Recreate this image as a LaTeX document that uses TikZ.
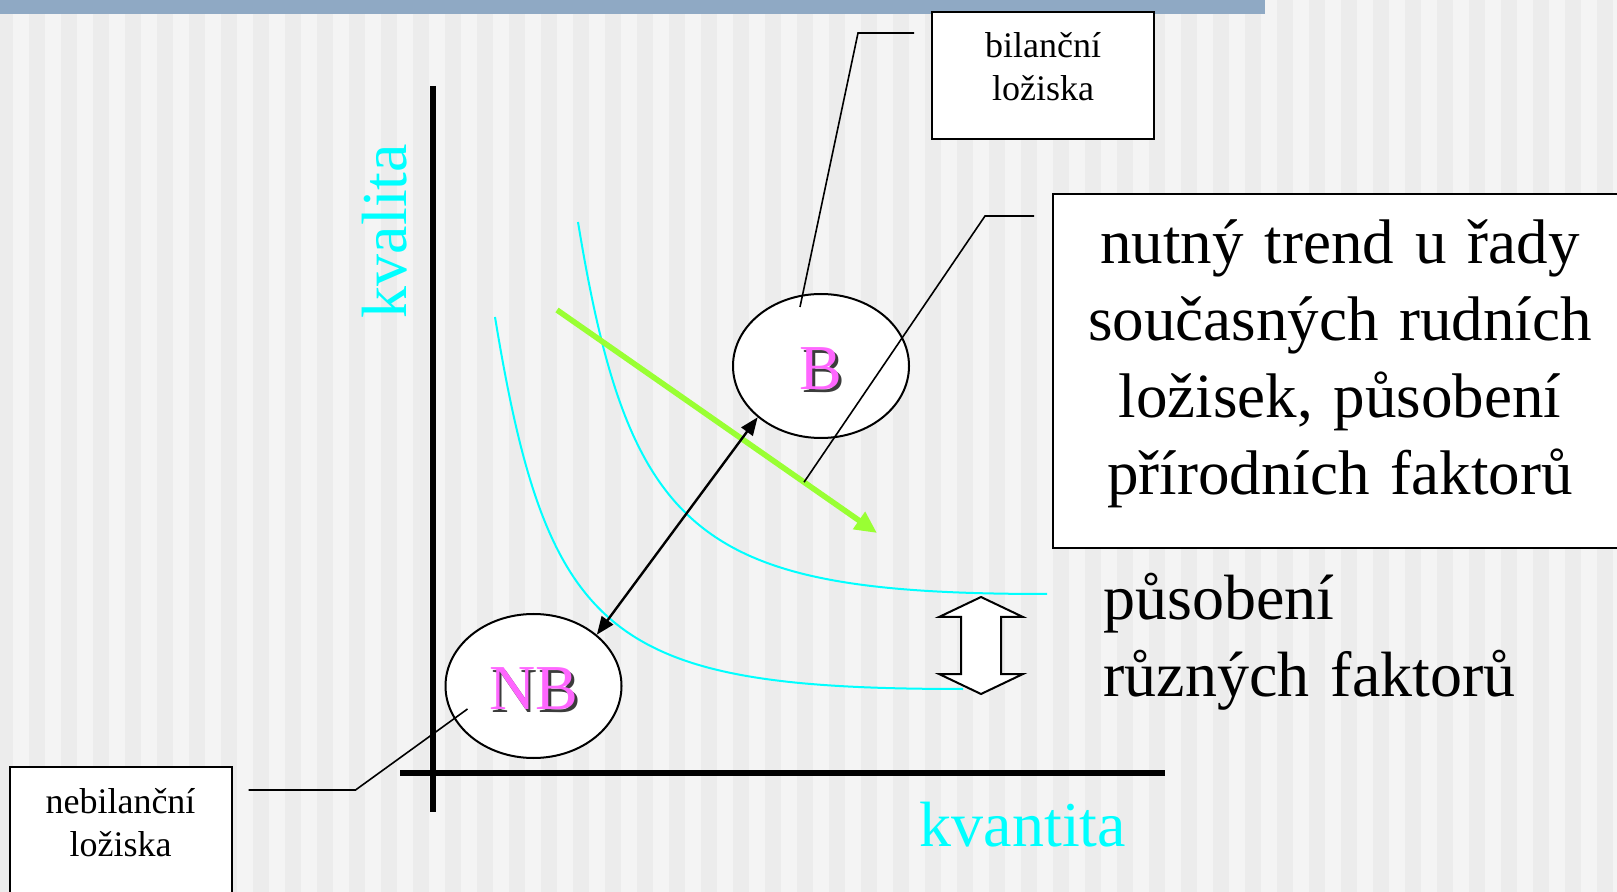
\documentclass[tikz,border=0pt]{standalone}
\usepackage{fontspec}
\setmainfont{Liberation Serif}
\usepackage{tikz}
\usetikzlibrary{arrows.meta, calc, shapes.geometric}

\definecolor{stripedark}{RGB}{236,236,236}
\definecolor{stripelight}{RGB}{244,244,244}
\definecolor{topbar}{RGB}{143,169,196}
\definecolor{axiscyan}{RGB}{0,255,255}
\definecolor{trendgreen}{RGB}{153,255,51}
\definecolor{depositpink}{RGB}{255,102,255}
\definecolor{shadowgray}{RGB}{60,60,60}

\newcommand{\shadowed}[1]{\rlap{\hspace{1.4pt}\raisebox{-1.4pt}{\textcolor{shadowgray}{#1}}}\textcolor{depositpink}{#1}}

\begin{document}
\begin{tikzpicture}[x=0.5pt, y=-0.5pt,
    deposit/.style={ellipse, draw, line width=1pt, fill=white, minimum width=88pt, minimum height=72pt, inner sep=0pt, text height=23.5pt, text depth=0pt, font=\fontsize{32}{38}\selectfont},
    labelbox/.style={draw, line width=1pt, fill=white, inner sep=0pt, anchor=north, align=center, text width=111pt, text height=23pt, text depth=40.5pt, font=\fontsize{18}{21.5}\selectfont},
    axislabel/.style={text=axiscyan, inner sep=0pt, anchor=base, font=\fontsize{32}{38}\selectfont},
    leader/.style={line width=0.8pt},
    curve/.style={axiscyan, line width=1pt}]
    \useasboundingbox (0,0) rectangle (1617,892);
    \fill[stripelight] (0,0) rectangle (1617,892);
    \foreach \i in {0,...,50}
        \fill[stripedark] ({32*\i-3},0) rectangle ++(16,892);
    \fill[topbar] (0,0) rectangle (1265,14);

    \draw[line width=2.8pt] (433,86) -- (433,812);
    \draw[line width=2.6pt] (400,773) -- (1165,773);
    \node[axislabel, rotate=90] (kvalita) at (406,231) {kvalita};
    \node[axislabel] (kvantita) at (1023,846) {kvantita};

    \draw[curve] (578,222) .. controls (630,540) and (700,594) .. (1047,594);
    \draw[curve] (495,317) .. controls (548,640) and (610,689) .. (963,689);

    \coordinate (trendstart) at (557,310);
    \coordinate (trendend) at (877,533);
    \draw[trendgreen, line width=2.8pt, -{Triangle[length=11pt, width=10pt]}] (trendstart) -- (trendend);

    \node[deposit] (B) at (821,366) {\shadowed{B}};
    \node[deposit] (NB) at (533.5,686) {\shadowed{NB}};
    \draw[line width=1.2pt, {Triangle[length=9pt, width=7pt]}-{Triangle[length=9pt, width=7pt]}] (NB.39) -- (B.219);

    \draw[line width=1pt, fill=white] (981,597) -- (1023,617) -- (1001,617) -- (1001,674) -- (1023,674)
        -- (981,694) -- (939,674) -- (961,674) -- (961,617) -- (939,617) -- cycle;

    \node[labelbox] (bil) at (1043,11) {bilanční\\ložiska};
    \node[labelbox] (nebil) at (120.5,766) {nebilanční\\ložiska};
    \node[labelbox, text width=287pt, text height=35pt, text depth=142pt, font=\fontsize{31.5}{38.5}\selectfont] (trend) at (1340,193)
        {nutný trend u řady\\současných rudních\\ložisek, působení\\přírodních faktorů};
    \node[anchor=base west, inner sep=0pt, align=left, text width=240pt, font=\fontsize{32}{38.5}\selectfont] (factors) at (1103,620)
        {působení\\různých faktorů};

    \draw[leader] ($(bil.north west)+(-17,22)$) -- ++(-56,0) -- ($(B.center)+(-21,-59)$);
    \draw[leader] ($(trend.north west)+(-18,23)$) -- ++(-49,0) -- ($(trendstart)!0.772!(trendend)$);
    \draw[leader] ($(nebil.north east)+(16,24)$) -- ++(107,0) -- ($(NB.center)+(-66,23)$);
\end{tikzpicture}
\end{document}
